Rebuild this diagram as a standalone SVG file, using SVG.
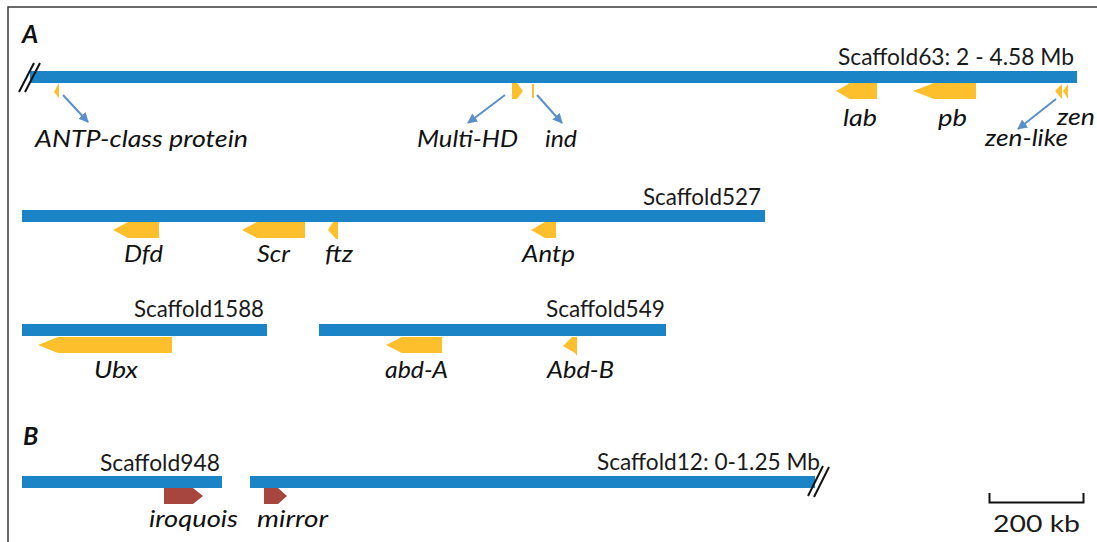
<svg xmlns="http://www.w3.org/2000/svg" width="1097" height="542" viewBox="0 0 1097 542">
<style>
.bar{fill:#1a84c7}
.gene{fill:#fdc02c}
.rgene{fill:#a6463f}
.hash{stroke:#111;stroke-width:2;fill:none}
.lbl{font-family:Lato,"Liberation Sans",sans-serif;font-size:24px;fill:#1a1a1a}
.it{font-family:Lato,"Liberation Sans",sans-serif;font-size:24px;font-style:italic;fill:#111}
.panel{font-family:Lato,"Liberation Sans",sans-serif;font-size:25px;font-style:italic;font-weight:bold;fill:#111}
.ptr{stroke:#5b8fc9;stroke-width:2;fill:none;marker-end:url(#ah)}
</style>
<defs>
<marker id="ah" viewBox="0 0 10 10" refX="9" refY="5" markerWidth="5" markerHeight="5" orient="auto" markerUnits="strokeWidth">
<path d="M0,0 L10,5 L0,10 z" fill="#5b8fc9"/>
</marker>
</defs>
<rect x="8" y="7" width="1100" height="600" fill="#fff" stroke="#3a3a3a" stroke-width="1.5"/>
<text class="panel" x="22" y="43">A</text>
<text class="panel" x="23" y="445">B</text>

<g id="scaffold63">
<rect class="bar" x="30" y="71" width="1047" height="12"/>
<line class="hash" x1="19" y1="92" x2="34" y2="63"/>
<line class="hash" x1="25" y1="92" x2="40" y2="63"/>
<text class="lbl" x="838" y="65" textLength="236" lengthAdjust="spacingAndGlyphs">Scaffold63: 2 - 4.58 Mb</text>
</g>
<g id="antp-class">
<polygon class="gene" points="59,83 59,98 54,92"/>
<text class="it" x="35" y="147" textLength="213" lengthAdjust="spacingAndGlyphs">ANTP-class protein</text>
</g>
<g id="multi-hd">
<polygon class="gene" points="512,83 517,83 523,91 517,99 512,99"/>
<text class="it" x="417" y="147" textLength="101" lengthAdjust="spacingAndGlyphs">Multi-HD</text>
</g>
<g id="ind">
<rect class="gene" x="532" y="84" width="2" height="14"/>
<text class="it" x="545" y="147" textLength="32" lengthAdjust="spacingAndGlyphs">ind</text>
</g>
<g id="lab">
<polygon class="gene" points="877,83 850,83 836,91 850,99 877,99"/>
<text class="it" x="843" y="126" textLength="34" lengthAdjust="spacingAndGlyphs">lab</text>
</g>
<g id="pb">
<polygon class="gene" points="976,83 934,83 913,91 934,99 976,99"/>
<text class="it" x="938" y="126" textLength="29" lengthAdjust="spacingAndGlyphs">pb</text>
</g>
<g id="zen-like">
<polygon class="gene" points="1062,84 1062,99 1055,91"/>
<text class="it" x="985" y="146" textLength="83" lengthAdjust="spacingAndGlyphs">zen-like</text>
</g>
<g id="zen">
<polygon class="gene" points="1068,84 1068,99 1063,91"/>
<text class="it" x="1057" y="125" textLength="38" lengthAdjust="spacingAndGlyphs">zen</text>
</g>

<g id="scaffold527">
<rect class="bar" x="22" y="210" width="743" height="12"/>
<text class="lbl" x="643" y="205" textLength="118" lengthAdjust="spacingAndGlyphs">Scaffold527</text>
</g>
<g id="dfd">
<polygon class="gene" points="159,222 128,222 113,230 128,238 159,238"/>
<text class="it" x="124" y="262" textLength="39" lengthAdjust="spacingAndGlyphs">Dfd</text>
</g>
<g id="scr">
<polygon class="gene" points="305,222 257,222 242,230 257,238 305,238"/>
<text class="it" x="257" y="262" textLength="33" lengthAdjust="spacingAndGlyphs">Scr</text>
</g>
<g id="ftz">
<polygon class="gene" points="333,222 338,222 338,239 336,239 328,230"/>
<text class="it" x="325" y="262" textLength="28" lengthAdjust="spacingAndGlyphs">ftz</text>
</g>
<g id="antp">
<polygon class="gene" points="556,222 545,222 531,230 545,238 556,238"/>
<text class="it" x="522" y="262" textLength="53" lengthAdjust="spacingAndGlyphs">Antp</text>
</g>

<g id="scaffold1588">
<rect class="bar" x="22" y="324" width="245" height="12"/>
<text class="lbl" x="134" y="317" textLength="130" lengthAdjust="spacingAndGlyphs">Scaffold1588</text>
</g>
<g id="ubx">
<polygon class="gene" points="172,337 58,337 38,345 58,353 172,353"/>
<text class="it" x="94" y="378" textLength="44" lengthAdjust="spacingAndGlyphs">Ubx</text>
</g>
<g id="scaffold549">
<rect class="bar" x="319" y="324" width="347" height="12"/>
<text class="lbl" x="546" y="317" textLength="119" lengthAdjust="spacingAndGlyphs">Scaffold549</text>
</g>
<g id="abd-a">
<polygon class="gene" points="442,337 402,337 386,345 402,353 442,353"/>
<text class="it" x="385" y="378" textLength="63" lengthAdjust="spacingAndGlyphs">abd-A</text>
</g>
<g id="abd-b">
<polygon class="gene" points="572,337 577,337 577,356 575,353 563,346"/>
<text class="it" x="547" y="378" textLength="67" lengthAdjust="spacingAndGlyphs">Abd-B</text>
</g>

<g id="scaffold948">
<rect class="bar" x="22" y="476" width="200" height="12"/>
<text class="lbl" x="100" y="471" textLength="120" lengthAdjust="spacingAndGlyphs">Scaffold948</text>
</g>
<g id="iroquois">
<polygon class="rgene" points="164,488 193,488 203,496 193,504 164,504"/>
<text class="it" x="149" y="527" textLength="89" lengthAdjust="spacingAndGlyphs">iroquois</text>
</g>
<g id="scaffold12">
<rect class="bar" x="250" y="476" width="565" height="12"/>
<line class="hash" x1="808" y1="496" x2="823" y2="466"/>
<line class="hash" x1="814" y1="497" x2="829" y2="467"/>
<text class="lbl" x="597" y="470" textLength="223" lengthAdjust="spacingAndGlyphs">Scaffold12: 0-1.25 Mb</text>
</g>
<g id="mirror">
<polygon class="rgene" points="264,488 278,488 287,496 278,504 264,504"/>
<text class="it" x="257" y="527" textLength="71" lengthAdjust="spacingAndGlyphs">mirror</text>
</g>

<g id="scalebar">
<path d="M989.5,493 V502.5 H1083.5 V493" fill="none" stroke="#111" stroke-width="2"/>
<text class="lbl" x="993" y="532" textLength="87" lengthAdjust="spacingAndGlyphs">200 kb</text>
</g>

<g id="connectors">
<line class="ptr" x1="63" y1="95" x2="88" y2="122"/>
<line class="ptr" x1="505" y1="95" x2="468" y2="123"/>
<line class="ptr" x1="537" y1="95" x2="562" y2="123"/>
<line class="ptr" x1="1056" y1="99" x2="1018" y2="129"/>
</g>
</svg>
